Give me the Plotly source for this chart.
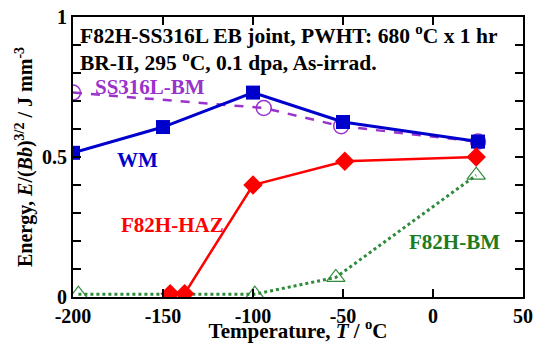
import plotly.graph_objects as go

wm_x = [-200, -150, -100, -50, 25]
wm_y = [0.515, 0.607, 0.73, 0.625, 0.555]
ss_x = [-200, -94, -51, 25]
ss_y = [0.73, 0.675, 0.61, 0.555]
haz_x = [-146, -138, -100, -49, 24]
haz_y = [0.012, 0.012, 0.40, 0.485, 0.50]
bm_x = [-197, -99, -54, 24]
bm_y = [0.01, 0.01, 0.07, 0.435]

FONT = "Liberation Serif"
BLUE = "#0000CC"
PURPLE = "#9933CC"
RED = "#FF0000"
GREEN = "#2E8B3A"
DGREEN = "#1E7B1E"

fig = go.Figure()
fig.add_trace(go.Scatter(x=ss_x, y=ss_y, mode="lines+markers",
                         line=dict(color=PURPLE, width=2.5, dash="dash"),
                         marker=dict(symbol="circle-open", size=15, color=PURPLE, line=dict(width=1.5))))
fig.add_trace(go.Scatter(x=wm_x, y=wm_y, mode="lines+markers",
                         line=dict(color=BLUE, width=3),
                         marker=dict(symbol="square", size=14, color=BLUE)))
fig.add_trace(go.Scatter(x=bm_x, y=bm_y, mode="lines+markers",
                         line=dict(color=GREEN, width=3, dash="dot"),
                         marker=dict(symbol="triangle-up-open", size=16, color=GREEN, line=dict(width=1.2))))
fig.add_trace(go.Scatter(x=haz_x, y=haz_y, mode="lines+markers",
                         line=dict(color=RED, width=2.5),
                         marker=dict(symbol="diamond", size=15, color=RED)))

ann = [
    dict(x=-197, y=0.936, text="F82H-SS316L EB joint, PWHT: 680 <sup>o</sup>C x 1 hr", color="black", xanchor="left"),
    dict(x=-197, y=0.840, text="BR-II, 295 <sup>o</sup>C, 0.1 dpa, As-irrad.", color="black", xanchor="left"),
    dict(x=-157, y=0.75, text="SS316L-BM", color=PURPLE, xanchor="center"),
    dict(x=-164, y=0.49, text="WM", color=BLUE, xanchor="center"),
    dict(x=-145, y=0.257, text="F82H-HAZ", color=RED, xanchor="center"),
    dict(x=12, y=0.196, text="F82H-BM", color=DGREEN, xanchor="center"),
]
for i, a in enumerate(ann):
    fig.add_annotation(x=a["x"], y=a["y"], xref="x", yref="y", text="<b>" + a["text"] + "</b>",
                       showarrow=False, xanchor=a["xanchor"], yanchor="middle",
                       font=dict(family=FONT, size=21.5 if i < 2 else 21, color=a["color"]))

fig.update_layout(
    width=536, height=343,
    margin=dict(l=73, r=13, t=17, b=46),
    paper_bgcolor="white", plot_bgcolor="white",
    showlegend=False,
    font=dict(family=FONT, size=18, color="black"),
)
fig.update_xaxes(range=[-200, 50], tickvals=[-200, -150, -100, -50, 0, 50],
                 ticktext=["<b>-200</b>", "<b>-150</b>", "<b>-100</b>", "<b>-50</b>", "<b>0</b>", "<b>50</b>"],
                 ticks="inside", ticklen=8, tickwidth=2, tickcolor="black",
                 showline=True, linewidth=2, linecolor="black", mirror="ticks",
                 showgrid=False, zeroline=False, automargin=False,
                 tickfont=dict(family=FONT, size=20),
                 title=dict(text="<b>Temperature, <i>T</i> / <sup>o</sup>C</b>", font=dict(family=FONT, size=21), standoff=6))
fig.update_yaxes(range=[0, 1], tickvals=[0, 0.5, 1], ticktext=["<b>0</b>", "<b>0.5</b>", "<b>1</b>"],
                 ticks="inside", ticklen=8, tickwidth=2, tickcolor="black",
                 minor=dict(dtick=0.1, ticks="inside", ticklen=8, tickwidth=2, tickcolor="black", showgrid=False),
                 showline=True, linewidth=2, linecolor="black", mirror="allticks",
                 showgrid=False, zeroline=False, automargin=False,
                 tickfont=dict(family=FONT, size=20),
                 title=dict(text="<b>Energy, <i>E</i>/(<i>Bb</i>)<sup>3/2</sup> / J mm<sup>-3</sup></b>",
                            font=dict(family=FONT, size=20), standoff=4))

fig.write_html("out.html", config={"displayModeBar": False},
               post_script="document.body.style.margin='0px';document.body.style.overflow='hidden';")
